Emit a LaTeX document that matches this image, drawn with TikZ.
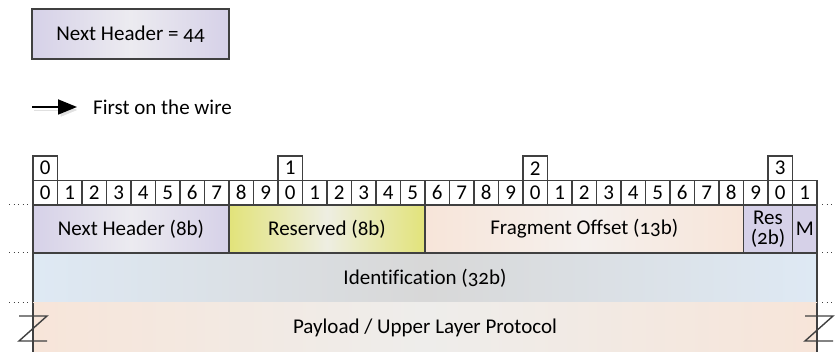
\documentclass[tikz,border=0pt]{standalone}
\usepackage{fontspec}
\setmainfont[Ligatures=CommonOff]{Carlito}
\usetikzlibrary{arrows.meta,positioning}
\definecolor{lineagris}{RGB}{64,64,64}
\definecolor{lavA}{RGB}{214,209,232}
\definecolor{lavB}{RGB}{236,235,240}
\definecolor{yelA}{RGB}{226,227,122}
\definecolor{yelB}{RGB}{238,238,226}
\definecolor{peachA}{RGB}{247,229,217}
\definecolor{peachB}{RGB}{245,240,237}
\definecolor{blueA}{RGB}{222,233,244}
\definecolor{blueB}{RGB}{216,216,216}
\definecolor{grisB}{RGB}{238,237,235}

\tikzset{
  campo/.style={draw=lineagris, line width=1.2pt, anchor=north west, outer sep=0pt,
    inner sep=0pt, minimum height=48pt,
    font=\fontsize{21}{20}\selectfont\addfontfeatures{Numbers=OldStyle}},
  celda/.style={draw=lineagris, line width=1.2pt, fill=white, anchor=north west,
    outer sep=0pt, inner sep=0pt, minimum width=24.5pt, minimum height=24.5pt,
    font=\fontsize{21}{20}\selectfont},
  grad/.style n args={2}{left color=#1, right color=#1, middle color=#2},
}

\begin{document}
\begin{tikzpicture}[x=1pt,y=1pt]
    \useasboundingbox (0,0) rectangle (835,352);
    % Cabecera siguiente
    \node[campo, grad={lavA}{lavB}, minimum width=197pt, minimum height=50pt] (nh44) at (32,343) {Next Header = 44};
    % Primero en el cable
    \node[anchor=west, inner sep=0pt, font=\fontsize{21}{20}\selectfont] (wire) at (93,245) {First on the wire};
    \coordinate (wire0) at (32,245);
    \draw[-{Triangle[length=19pt,width=15pt]}, line width=1.8pt, shorten >=16pt,
      preaction={draw=black!12, transform canvas={shift={(2pt,-3pt)}}}] (wire0) -- (wire.west);
    % Indices de bits
    \foreach \i/\t in {0/0,10/1,20/2,30/3}{
      \node[celda] (d\t) at ({33+24.5*\i},196) {\t};
    }
    \foreach \i in {0,...,31}{
      \pgfmathtruncatemacro\d{mod(\i,10)}
      \node[celda] (b\i) at ({33+24.5*\i},171.5) {\d};
    }
    % Campos de la cabecera
    \node[campo, grad={lavA}{lavB}, minimum width=196pt] (nh) at (b0.south west) {Next Header (8b)};
    \node[campo, grad={yelA}{yelB}, minimum width=196pt] (res) at (nh.north east) {Reserved (8b)};
    \node[campo, grad={peachA}{peachB}, minimum width=318.5pt] (fo) at (res.north east) {Fragment Offset (13b)};
    \node[campo, fill=lavA, minimum width=49pt, align=center] (res2) at (fo.north east) {Res\\(2b)};
    \node[campo, fill=lavA, minimum width=24.5pt] (m) at (res2.north east) {M};
    \node[campo, grad={blueA}{blueB}, minimum width=784pt, minimum height=50pt] (id) at (nh.south west) {Identification (32b)};
    \node[campo, draw=none, grad={peachA}{grisB}, minimum width=784pt, minimum height=49pt] (pl) at (id.south west) {Payload / Upper Layer Protocol};
    \draw[lineagris, line width=1.2pt] (pl.north west) -- (pl.south west);
    \draw[lineagris, line width=1.2pt] (pl.north east) -- (pl.south east);
    % Lineas punteadas
    \foreach \y in {147,99,49}{
      \draw[lineagris, line width=1pt, dash pattern=on 1pt off 3.5pt] (9,\y) -- (30,\y);
      \draw[lineagris, line width=1pt, dash pattern=on 1pt off 3.5pt] (822,\y) -- (835,\y);
    }
    % Cortes
    \draw[lineagris, line width=1.4pt] (19,36) -- (47,36) -- (19,11) -- (47,11);
    \draw[lineagris, line width=1.4pt] (805,36) -- (833,36) -- (805,11) -- (833,11);
\end{tikzpicture}
\end{document}
